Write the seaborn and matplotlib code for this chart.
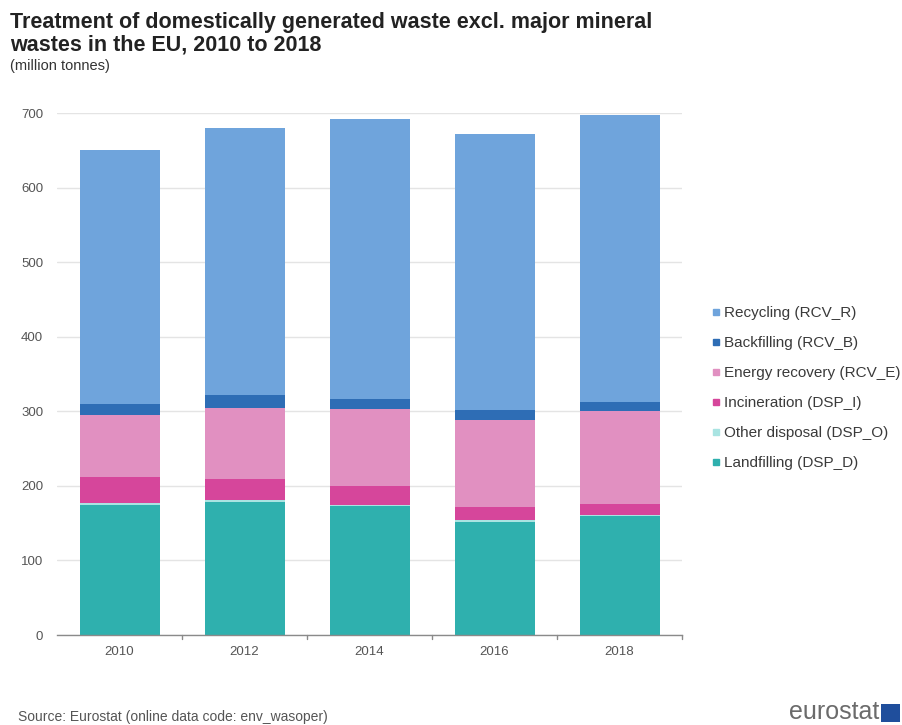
import numpy as np
import pandas as pd
import matplotlib
matplotlib.use("Agg")
import matplotlib.pyplot as plt
from matplotlib.patches import Rectangle
from matplotlib.lines import Line2D
import seaborn as sns

years = ["2010", "2012", "2014", "2016", "2018"]
landfilling = [175.0, 179.0, 173.0, 152.0, 159.5]
other_disposal = [2.0, 2.0, 2.0, 2.0, 2.0]
incineration = [35.0, 28.5, 25.5, 18.0, 14.5]
energy_recovery = [83.0, 95.5, 103.0, 117.0, 124.0]
backfilling = [14.5, 16.5, 13.5, 13.0, 13.0]
recycling = [341.5, 358.5, 375.0, 370.0, 385.0]

series_names = [
    "Landfilling (DSP_D)",
    "Other disposal (DSP_O)",
    "Incineration (DSP_I)",
    "Energy recovery (RCV_E)",
    "Backfilling (RCV_B)",
    "Recycling (RCV_R)",
]
series_values = [landfilling, other_disposal, incineration,
                 energy_recovery, backfilling, recycling]
series_colors = ["#2fb0ae", "#a9e4e2", "#d6469b", "#e190c1", "#2e6db5", "#6fa4dc"]

sns.set_style("white")
plt.rcParams["font.family"] = ["Liberation Sans", "DejaVu Sans"]

fig = plt.figure(figsize=(9.02, 7.25), dpi=100)
ax = fig.add_axes([57 / 902, 90 / 725, 625 / 902, 521.7 / 725])

# stacked bars: draw cumulative totals from the top layer down
cum = np.cumsum(np.array(series_values), axis=0)
for i in range(len(series_names) - 1, -1, -1):
    df = pd.DataFrame({"year": years, "value": cum[i]})
    sns.barplot(data=df, x="year", y="value", color=series_colors[i],
                width=0.64, saturation=1, linewidth=0, ax=ax, zorder=2)

ax.set_xlim(-0.5, 4.5)
ax.set_ylim(0, 700)
ax.set_yticks(range(0, 701, 100))
ax.set_xlabel("")
ax.set_ylabel("")
ax.grid(axis="y", color="#e4e4e4", linewidth=1, zorder=0)
ax.set_axisbelow(True)
for s in ["top", "right", "left"]:
    ax.spines[s].set_visible(False)
ax.spines["bottom"].set_color("#8a8a8a")
ax.spines["bottom"].set_linewidth(1)

# category boundary ticks on the x axis
ax.set_xticks(range(len(years)))
ax.set_xticklabels(years)
ax.tick_params(axis="x", length=0, pad=8, labelsize=9.5, labelcolor="#555555")
ax.tick_params(axis="y", length=0, pad=10, labelsize=9.5, labelcolor="#555555")
for b in np.arange(0.5, 4.6, 1.0):
    ax.plot([b, b], [0, -5], color="#8a8a8a", lw=1, clip_on=False, zorder=3)

# legend, recycling on top
handles = [Line2D([0], [0], marker="s", color="none", markerfacecolor=c,
                  markeredgecolor=c, markersize=5)
           for c in series_colors[::-1]]
fig.legend(handles, series_names[::-1], loc="upper left",
           bbox_to_anchor=(706 / 902, 1 - 300 / 725), frameon=False,
           fontsize=11, labelcolor="#3a3a3a", handlelength=0.5,
           handletextpad=0.25, labelspacing=1.05, borderaxespad=0)

fig.text(10 / 902, 1 - 12 / 725,
         "Treatment of domestically generated waste excl. major mineral\nwastes in the EU, 2010 to 2018",
         fontsize=15.5, fontweight="bold", color="#222222", va="top",
         linespacing=1.08)
fig.text(10 / 902, 1 - 59 / 725, "(million tonnes)", fontsize=10.5,
         color="#333333", va="top")

fig.text(18 / 902, 1 - 717 / 725,
         "Source: Eurostat (online data code: env_wasoper)",
         fontsize=10, color="#555555", va="center")
fig.text(879 / 902, 1 - 712 / 725, "eurostat", fontsize=18,
         color="#6b6b6b", ha="right", va="center")
fig.add_artist(Rectangle((881 / 902, 1 - 722 / 725), 19 / 902, 18 / 725,
                         transform=fig.transFigure, facecolor="#1f4e9c",
                         edgecolor="none"))

fig.savefig("out.png", dpi=100)
